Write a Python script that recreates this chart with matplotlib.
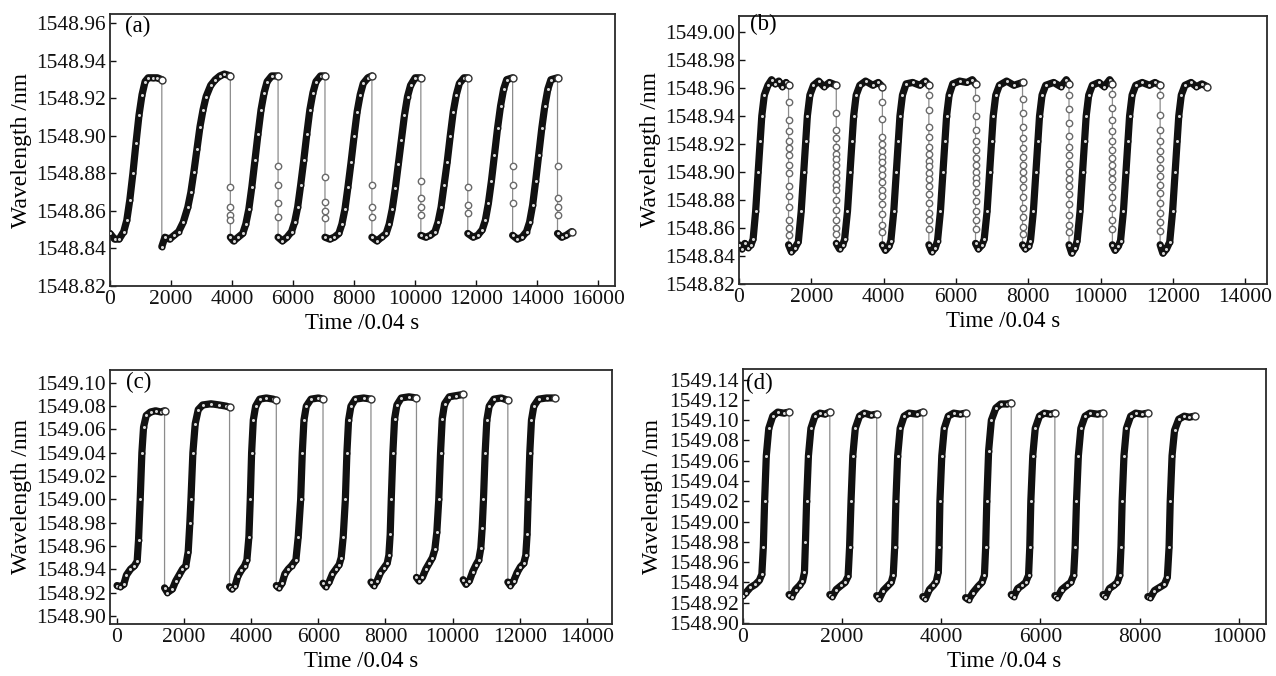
import matplotlib
matplotlib.use('Agg')
import matplotlib.pyplot as plt
import numpy as np

plt.rcParams['font.family'] = ['Liberation Serif', 'DejaVu Serif']

# ---- panel (a) : time (x0.04 s) and wavelength (nm), drops share one time stamp
a_t = [0, 150, 300, 450, 550, 650, 750, 850, 950, 1050, 1150, 1250, 1400, 1550, 1698,
       1698, 1800, 1950, 2100, 2250, 2400, 2550, 2650, 2750, 2850, 2950, 3050, 3150, 3300, 3450, 3600, 3750, 3944,
       3944, 3944, 3944, 3944, 3944,
       4050, 4200, 4350, 4450, 4550, 4650, 4750, 4850, 4950, 5050, 5150, 5300, 5508,
       5508, 5508, 5508, 5508, 5508,
       5650, 5800, 5950, 6050, 6150, 6250, 6350, 6450, 6550, 6650, 6750, 6900, 7045,
       7045, 7045, 7045, 7045, 7045,
       7200, 7350, 7500, 7600, 7700, 7800, 7900, 8000, 8100, 8200, 8300, 8450, 8583,
       8583, 8583, 8583, 8583,
       8750, 8900, 9050, 9150, 9250, 9350, 9450, 9550, 9650, 9750, 9850, 10000, 10187,
       10187, 10187, 10187, 10187, 10187,
       10350, 10500, 10650, 10750, 10850, 10950, 11050, 11150, 11250, 11350, 11450, 11600, 11725,
       11725, 11725, 11725, 11725,
       11900, 12050, 12200, 12300, 12400, 12500, 12600, 12700, 12800, 12900, 13000, 13195,
       13195, 13195, 13195, 13195,
       13350, 13500, 13650, 13750, 13850, 13950, 14050, 14150, 14250, 14350, 14450, 14666,
       14666, 14666, 14666, 14666, 14666,
       14800, 14950, 15130]
a_w = [1548.848, 1548.845, 1548.845, 1548.849, 1548.855, 1548.866, 1548.880, 1548.896, 1548.911, 1548.922, 1548.929, 1548.931, 1548.931, 1548.931, 1548.930,
       1548.841, 1548.846, 1548.845, 1548.847, 1548.849, 1548.854, 1548.862, 1548.870, 1548.881, 1548.893, 1548.905, 1548.914, 1548.921, 1548.927, 1548.930, 1548.932, 1548.933, 1548.932,
       1548.873, 1548.862, 1548.858, 1548.855, 1548.846,
       1548.844, 1548.846, 1548.848, 1548.853, 1548.861, 1548.873, 1548.887, 1548.901, 1548.914, 1548.923, 1548.929, 1548.932, 1548.932,
       1548.884, 1548.874, 1548.864, 1548.857, 1548.846,
       1548.844, 1548.846, 1548.849, 1548.854, 1548.862, 1548.874, 1548.887, 1548.901, 1548.914, 1548.923, 1548.929, 1548.932, 1548.932,
       1548.878, 1548.865, 1548.860, 1548.856, 1548.846,
       1548.845, 1548.846, 1548.848, 1548.853, 1548.861, 1548.873, 1548.886, 1548.900, 1548.913, 1548.922, 1548.928, 1548.931, 1548.932,
       1548.874, 1548.862, 1548.857, 1548.846,
       1548.844, 1548.846, 1548.848, 1548.853, 1548.861, 1548.872, 1548.885, 1548.898, 1548.911, 1548.921, 1548.927, 1548.931, 1548.931,
       1548.876, 1548.867, 1548.862, 1548.858, 1548.847,
       1548.846, 1548.847, 1548.849, 1548.854, 1548.862, 1548.874, 1548.886, 1548.900, 1548.913, 1548.922, 1548.928, 1548.931, 1548.931,
       1548.873, 1548.863, 1548.859, 1548.848,
       1548.846, 1548.847, 1548.850, 1548.855, 1548.864, 1548.876, 1548.890, 1548.904, 1548.916, 1548.925, 1548.930, 1548.931,
       1548.884, 1548.874, 1548.864, 1548.847,
       1548.845, 1548.846, 1548.849, 1548.854, 1548.863, 1548.876, 1548.890, 1548.904, 1548.916, 1548.925, 1548.930, 1548.931,
       1548.884, 1548.867, 1548.862, 1548.858, 1548.848,
       1548.846, 1548.847, 1548.849]

# ---- panel (b)
b_t = [0, 80, 160, 250, 330, 390, 460, 530, 585, 630, 700, 800, 900, 1000, 1100, 1200, 1300, 1370,
       1370, 1370, 1370, 1370, 1370, 1370, 1370, 1370, 1370, 1370, 1370, 1370, 1370, 1370, 1370,
       1450, 1550, 1640, 1720, 1790, 1845, 1890, 1960, 2060, 2200, 2350, 2500, 2690,
       2690, 2690, 2690, 2690, 2690, 2690, 2690, 2690, 2690, 2690, 2690, 2690, 2690, 2690, 2690, 2690, 2690,
       2780, 2870, 2920, 3000, 3070, 3125, 3170, 3240, 3340, 3500, 3700, 3850, 3965,
       3965, 3965, 3965, 3965, 3965, 3965, 3965, 3965, 3965, 3965, 3965, 3965, 3965, 3965, 3965, 3965, 3965,
       4050, 4150, 4200, 4280, 4350, 4405, 4450, 4520, 4620, 4800, 5000, 5150, 5250,
       5250, 5250, 5250, 5250, 5250, 5250, 5250, 5250, 5250, 5250, 5250, 5250, 5250, 5250, 5250, 5250, 5250,
       5330, 5430, 5490, 5570, 5640, 5695, 5740, 5810, 5910, 6100, 6300, 6450, 6540,
       6540, 6540, 6540, 6540, 6540, 6540, 6540, 6540, 6540, 6540, 6540, 6540, 6540, 6540, 6540, 6540,
       6620, 6720, 6780, 6860, 6930, 6985, 7030, 7100, 7200, 7400, 7600, 7840,
       7840, 7840, 7840, 7840, 7840, 7840, 7840, 7840, 7840, 7840, 7840, 7840, 7840, 7840, 7840, 7840,
       7920, 8010, 8060, 8140, 8210, 8265, 8310, 8380, 8480, 8700, 8900, 9050, 9125,
       9125, 9125, 9125, 9125, 9125, 9125, 9125, 9125, 9125, 9125, 9125, 9125, 9125, 9125, 9125, 9125,
       9200, 9300, 9350, 9430, 9500, 9555, 9600, 9670, 9770, 9950, 10100, 10250, 10325,
       10325, 10325, 10325, 10325, 10325, 10325, 10325, 10325, 10325, 10325, 10325, 10325, 10325, 10325, 10325, 10325,
       10400, 10490, 10550, 10630, 10700, 10755, 10800, 10870, 10970, 11150, 11350, 11500, 11645,
       11645, 11645, 11645, 11645, 11645, 11645, 11645, 11645, 11645, 11645, 11645, 11645, 11645, 11645, 11645,
       11720, 11820, 11910, 11990, 12060, 12115, 12160, 12230, 12330, 12500, 12650, 12800, 12950]
b_w = [1548.848, 1548.845, 1548.849, 1548.846, 1548.848, 1548.852, 1548.872, 1548.900, 1548.922, 1548.940, 1548.955, 1548.962, 1548.966, 1548.963, 1548.965, 1548.961, 1548.964, 1548.962,
       1548.950, 1548.937, 1548.929, 1548.922, 1548.917, 1548.912, 1548.905, 1548.899, 1548.890, 1548.883, 1548.875, 1548.866, 1548.860, 1548.855, 1548.848,
       1548.843, 1548.846, 1548.850, 1548.872, 1548.900, 1548.922, 1548.940, 1548.955, 1548.962, 1548.965, 1548.961, 1548.964, 1548.962,
       1548.942, 1548.930, 1548.924, 1548.918, 1548.913, 1548.909, 1548.905, 1548.900, 1548.896, 1548.891, 1548.887, 1548.880, 1548.873, 1548.866, 1548.860, 1548.856, 1548.849,
       1548.845, 1548.848, 1548.852, 1548.872, 1548.900, 1548.922, 1548.940, 1548.955, 1548.962, 1548.965, 1548.962, 1548.964, 1548.961,
       1548.950, 1548.938, 1548.925, 1548.920, 1548.915, 1548.911, 1548.907, 1548.902, 1548.898, 1548.893, 1548.887, 1548.883, 1548.877, 1548.870, 1548.862, 1548.857, 1548.848,
       1548.844, 1548.847, 1548.851, 1548.872, 1548.900, 1548.922, 1548.940, 1548.955, 1548.963, 1548.964, 1548.962, 1548.965, 1548.962,
       1548.955, 1548.944, 1548.932, 1548.925, 1548.918, 1548.913, 1548.908, 1548.904, 1548.899, 1548.895, 1548.890, 1548.884, 1548.878, 1548.871, 1548.866, 1548.859, 1548.848,
       1548.843, 1548.846, 1548.851, 1548.872, 1548.900, 1548.922, 1548.940, 1548.955, 1548.963, 1548.965, 1548.964, 1548.966, 1548.963,
       1548.953, 1548.940, 1548.930, 1548.922, 1548.916, 1548.910, 1548.905, 1548.900, 1548.896, 1548.892, 1548.886, 1548.879, 1548.872, 1548.866, 1548.859, 1548.849,
       1548.845, 1548.848, 1548.852, 1548.872, 1548.900, 1548.922, 1548.940, 1548.955, 1548.962, 1548.965, 1548.962, 1548.964,
       1548.952, 1548.942, 1548.932, 1548.924, 1548.917, 1548.911, 1548.905, 1548.900, 1548.895, 1548.889, 1548.882, 1548.874, 1548.868, 1548.861, 1548.856, 1548.848,
       1548.845, 1548.847, 1548.851, 1548.872, 1548.900, 1548.922, 1548.940, 1548.955, 1548.962, 1548.964, 1548.961, 1548.966, 1548.963,
       1548.955, 1548.945, 1548.935, 1548.926, 1548.918, 1548.912, 1548.906, 1548.900, 1548.895, 1548.890, 1548.884, 1548.877, 1548.869, 1548.862, 1548.857, 1548.848,
       1548.842, 1548.846, 1548.851, 1548.872, 1548.900, 1548.922, 1548.940, 1548.955, 1548.962, 1548.964, 1548.961, 1548.966, 1548.963,
       1548.956, 1548.946, 1548.937, 1548.929, 1548.922, 1548.916, 1548.910, 1548.905, 1548.900, 1548.895, 1548.889, 1548.882, 1548.874, 1548.866, 1548.859, 1548.848,
       1548.844, 1548.847, 1548.851, 1548.872, 1548.900, 1548.922, 1548.940, 1548.955, 1548.962, 1548.964, 1548.962, 1548.964, 1548.962,
       1548.955, 1548.941, 1548.930, 1548.922, 1548.915, 1548.909, 1548.903, 1548.897, 1548.891, 1548.885, 1548.878, 1548.871, 1548.864, 1548.858, 1548.848,
       1548.842, 1548.845, 1548.850, 1548.872, 1548.900, 1548.922, 1548.940, 1548.955, 1548.962, 1548.964, 1548.961, 1548.963, 1548.961]

# ---- panel (c)
c_t = [0, 100, 200, 280, 400, 520, 600, 640, 690, 740, 790, 870, 1000, 1150, 1300, 1416,
       1416, 1500, 1650, 1750, 1850, 1950, 2050, 2120, 2170, 2203, 2260, 2330, 2420, 2550, 2800, 3050, 3250, 3353,
       3353, 3420, 3520, 3600, 3700, 3800, 3870, 3930, 3970, 4010, 4060, 4130, 4250, 4450, 4650, 4746,
       4746, 4820, 4920, 5000, 5100, 5200, 5330, 5400, 5472, 5520, 5570, 5640, 5780, 6000, 6138,
       6138, 6220, 6320, 6420, 6520, 6620, 6680, 6740, 6804, 6850, 6900, 6970, 7100, 7350, 7567,
       7567, 7650, 7750, 7850, 7950, 8050, 8100, 8140, 8172, 8220, 8270, 8340, 8470, 8700, 8923,
       8923, 9000, 9100, 9200, 9300, 9400, 9470, 9530, 9588, 9640, 9690, 9760, 9900, 10100, 10315,
       10315, 10400, 10500, 10600, 10700, 10780, 10840, 10880, 10920, 10970, 11020, 11090, 11230, 11450, 11646,
       11646, 11720, 11820, 11920, 12020, 12120, 12180, 12220, 12252, 12300, 12350, 12420, 12560, 12800, 13039]
c_w = [1548.926, 1548.925, 1548.927, 1548.935, 1548.940, 1548.943, 1548.947, 1548.965, 1549.000, 1549.040, 1549.062, 1549.072, 1549.075, 1549.076, 1549.075, 1549.076,
       1548.924, 1548.920, 1548.923, 1548.930, 1548.935, 1548.940, 1548.943, 1548.955, 1548.980, 1549.000, 1549.040, 1549.065, 1549.077, 1549.081, 1549.082, 1549.081, 1549.080, 1549.079,
       1548.925, 1548.923, 1548.926, 1548.934, 1548.939, 1548.943, 1548.948, 1548.968, 1549.000, 1549.040, 1549.068, 1549.080, 1549.086, 1549.087, 1549.086, 1549.085,
       1548.926, 1548.924, 1548.928, 1548.936, 1548.940, 1548.943, 1548.948, 1548.968, 1549.000, 1549.040, 1549.068, 1549.080, 1549.086, 1549.087, 1549.086,
       1548.928, 1548.925, 1548.929, 1548.936, 1548.940, 1548.944, 1548.950, 1548.968, 1549.000, 1549.040, 1549.068, 1549.080, 1549.086, 1549.087, 1549.086,
       1548.929, 1548.926, 1548.930, 1548.937, 1548.941, 1548.945, 1548.952, 1548.970, 1549.000, 1549.040, 1549.069, 1549.081, 1549.087, 1549.088, 1549.087,
       1548.933, 1548.930, 1548.933, 1548.940, 1548.945, 1548.950, 1548.957, 1548.972, 1549.000, 1549.040, 1549.069, 1549.082, 1549.088, 1549.089, 1549.090,
       1548.931, 1548.927, 1548.930, 1548.938, 1548.944, 1548.948, 1548.958, 1548.975, 1549.000, 1549.040, 1549.068, 1549.080, 1549.086, 1549.087, 1549.085,
       1548.929, 1548.926, 1548.930, 1548.937, 1548.942, 1548.945, 1548.952, 1548.970, 1549.000, 1549.040, 1549.068, 1549.080, 1549.086, 1549.087, 1549.087]

# ---- panel (d)
d_t = [0, 60, 150, 250, 330, 380, 410, 436, 470, 520, 600, 700, 820, 929,
       929, 980, 1060, 1140, 1200, 1240, 1260, 1283, 1320, 1370, 1450, 1550, 1650, 1751,
       1751, 1800, 1880, 1980, 2060, 2120, 2150, 2179, 2215, 2265, 2350, 2450, 2580, 2697,
       2697, 2750, 2830, 2930, 2990, 3030, 3060, 3084, 3120, 3170, 3250, 3350, 3500, 3627,
       3627, 3680, 3760, 3840, 3900, 3940, 3955, 3972, 4010, 4060, 4140, 4250, 4380, 4490,
       4490, 4550, 4640, 4740, 4820, 4870, 4895, 4918, 4955, 5010, 5100, 5200, 5320, 5411,
       5411, 5460, 5540, 5630, 5700, 5760, 5785, 5806, 5845, 5895, 5980, 6080, 6200, 6291,
       6291, 6340, 6430, 6530, 6610, 6670, 6700, 6727, 6765, 6815, 6900, 7000, 7150, 7262,
       7262, 7310, 7390, 7480, 7550, 7600, 7625, 7648, 7685, 7735, 7820, 7920, 8050, 8166,
       8166, 8220, 8300, 8400, 8500, 8560, 8595, 8618, 8655, 8705, 8790, 8900, 9000, 9112]
d_w = [1548.927, 1548.930, 1548.935, 1548.938, 1548.942, 1548.948, 1548.975, 1549.020, 1549.065, 1549.092, 1549.104, 1549.108, 1549.107, 1549.108,
       1548.928, 1548.926, 1548.933, 1548.937, 1548.941, 1548.950, 1548.980, 1549.020, 1549.065, 1549.092, 1549.104, 1549.107, 1549.106, 1549.108,
       1548.928, 1548.926, 1548.933, 1548.937, 1548.940, 1548.946, 1548.975, 1549.020, 1549.065, 1549.092, 1549.104, 1549.107, 1549.105, 1549.106,
       1548.927, 1548.924, 1548.932, 1548.937, 1548.940, 1548.947, 1548.975, 1549.020, 1549.065, 1549.092, 1549.104, 1549.107, 1549.106, 1549.108,
       1548.926, 1548.924, 1548.933, 1548.937, 1548.941, 1548.950, 1548.975, 1549.020, 1549.065, 1549.092, 1549.104, 1549.107, 1549.106, 1549.107,
       1548.925, 1548.923, 1548.930, 1548.936, 1548.940, 1548.947, 1548.975, 1549.020, 1549.070, 1549.100, 1549.112, 1549.116, 1549.116, 1549.117,
       1548.928, 1548.926, 1548.934, 1548.937, 1548.940, 1548.947, 1548.975, 1549.020, 1549.065, 1549.092, 1549.104, 1549.107, 1549.106, 1549.107,
       1548.927, 1548.925, 1548.933, 1548.937, 1548.940, 1548.947, 1548.975, 1549.020, 1549.065, 1549.092, 1549.104, 1549.107, 1549.106, 1549.107,
       1548.928, 1548.926, 1548.934, 1548.937, 1548.940, 1548.947, 1548.975, 1549.020, 1549.065, 1549.092, 1549.104, 1549.107, 1549.106, 1549.107,
       1548.926, 1548.925, 1548.932, 1548.935, 1548.938, 1548.945, 1548.975, 1549.020, 1549.065, 1549.090, 1549.101, 1549.104, 1549.103, 1549.104]

PANELS = ['(a)', '(b)', '(c)', '(d)']
X_TICKS = [np.arange(0, 16001, 2000), np.arange(0, 14001, 2000),
           np.arange(0, 14001, 2000), np.arange(0, 10001, 2000)]
Y_TICKS = [np.arange(1548.82, 1548.9601, 0.02), np.arange(1548.82, 1549.0001, 0.02),
           np.arange(1548.90, 1549.1001, 0.02), np.arange(1548.90, 1549.1401, 0.02)]

W, H = 1276, 676
# axes boxes in pixels: left, top, right, bottom
BOXES = [(110, 14, 615, 286), (739, 16, 1267, 284), (110, 370, 612, 624), (743, 369, 1266, 624)]
XLIMS = [(0, 16550), (0, 14600), (-210, 14750), (0, 10550)]
YLIMS = [(1548.82, 1548.965), (1548.82, 1549.0115), (1548.893, 1549.111), (1548.899, 1549.1505)]
LABEL_POS = [(0.03, 0.955), (0.02, 0.968), (0.032, 0.95), (0.006, 0.945)]
YLABEL_GAP = [78, 78, 78, 80]   # px from the left spine to the y-label


def draw(ax, t, w):
    t = np.asarray(t, dtype=float)
    w = np.asarray(w, dtype=float)
    # thin grey connecting line (shows the fast drops)
    ax.plot(t, w, color='#8c8c8c', lw=0.9, zorder=1)
    # dense black traces: split wherever the time stamp repeats (a drop)
    cut = np.where(np.diff(t) == 0)[0] + 1
    for st, sw in zip(np.split(t, cut), np.split(w, cut)):
        if len(st) > 1:
            ax.plot(st, sw, color='#111111', lw=5.2, solid_capstyle='round',
                    solid_joinstyle='round', zorder=2)
            ax.plot(st, sw, ls='none', marker='o', ms=3.2, mfc='#d8d8d8',
                    mec='#111111', mew=1.0, zorder=3)
            # last sample of a run is drawn as an open circle
            ax.plot(st[-1:], sw[-1:], ls='none', marker='o', ms=5, mfc='white',
                    mec='#333333', mew=1.0, zorder=4)
        else:
            ax.plot(st, sw, ls='none', marker='o', ms=4.6, mfc='white',
                    mec='#6a6a6a', mew=1.0, zorder=3)


fig = plt.figure(figsize=(W / 100, H / 100), dpi=100)
data = [(a_t, a_w), (b_t, b_w), (c_t, c_w), (d_t, d_w)]
for i, (t, w) in enumerate(data):
    l, tp, r, b = BOXES[i]
    ax = fig.add_axes([l / W, 1 - b / H, (r - l) / W, (b - tp) / H])
    draw(ax, t, w)
    ax.set_xlim(*XLIMS[i])
    ax.set_ylim(*YLIMS[i])
    ax.set_xticks(X_TICKS[i])
    ax.set_yticks(Y_TICKS[i])
    ax.set_yticklabels(['%.2f' % v for v in Y_TICKS[i]])
    ax.tick_params(direction='in', length=4, width=1, top=False, right=False,
                   labelsize=15.5, pad=3, colors='#111111')
    for s in ax.spines.values():
        s.set_linewidth(1.3)
        s.set_color('#2a2a2a')
    ax.set_xlabel('Time /0.04 s', fontsize=16.5, labelpad=3)
    ax.set_ylabel('Wavelength /nm', fontsize=17)
    ax.yaxis.set_label_coords(-YLABEL_GAP[i] / (r - l), 0.5)
    ax.text(LABEL_POS[i][0], LABEL_POS[i][1], PANELS[i], transform=ax.transAxes,
            ha='left', va='center', fontsize=16.5)

fig.savefig('out.png', dpi=100)
